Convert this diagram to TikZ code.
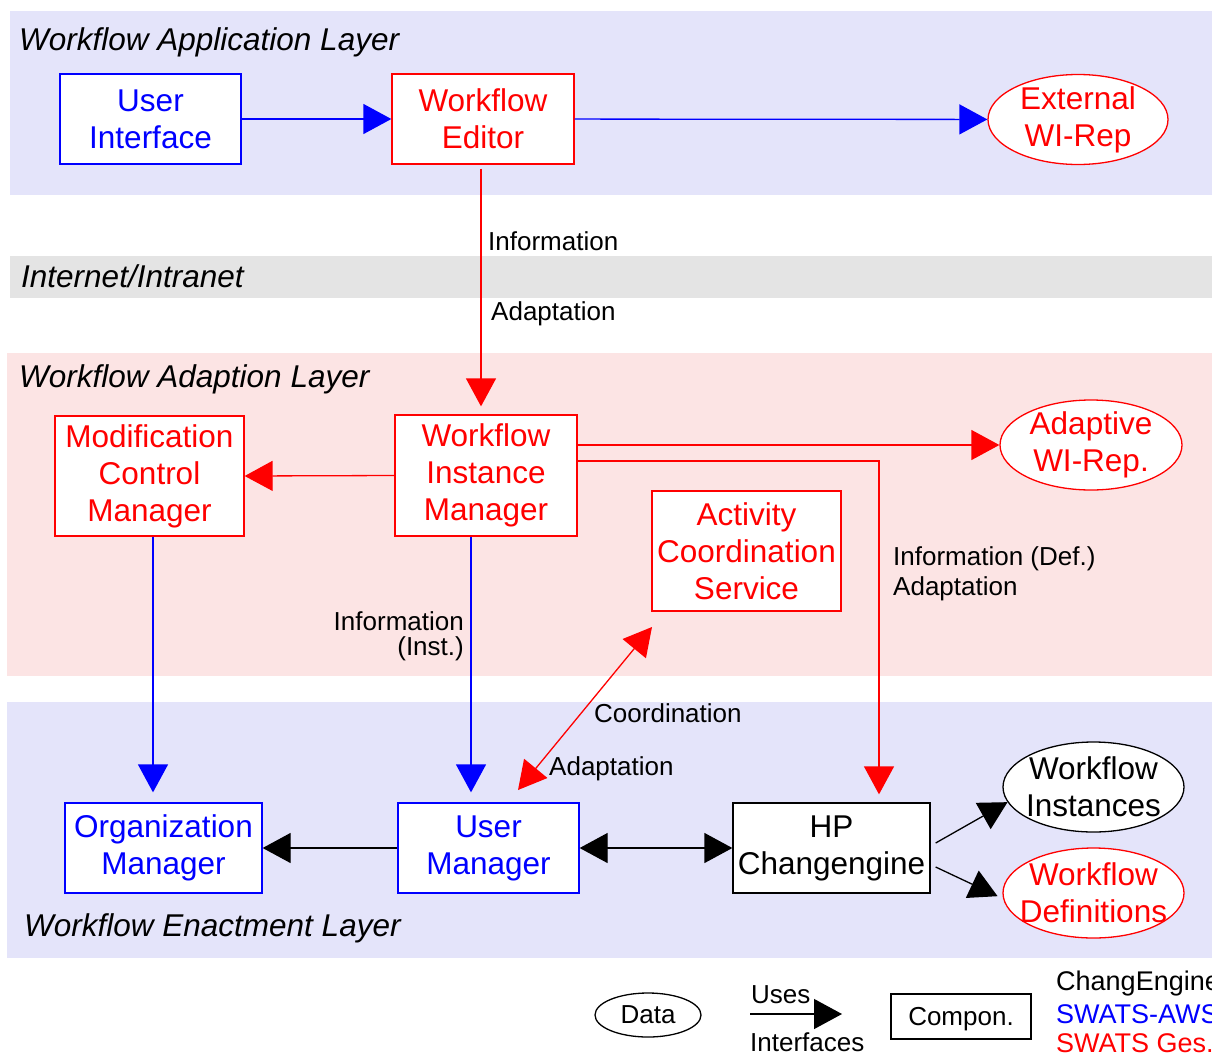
\documentclass[tikz,border=0pt]{standalone}
\usepackage{fontspec}
\setmainfont{Liberation Sans}
\usetikzlibrary{arrows.meta,shapes.geometric}

\definecolor{lavband}{RGB}{228,228,250}
\definecolor{pinkband}{RGB}{252,228,228}
\definecolor{grayband}{RGB}{228,228,228}

\tikzset{
  comp/.style={draw, fill=white, line width=1.3pt, align=center, inner sep=0pt,
    font=\fontsize{31.5}{37}\selectfont},
  datum/.style={draw, fill=white, line width=1.3pt, ellipse, align=center, inner xsep=-30pt, inner ysep=-12pt,
    minimum width=180pt, minimum height=90pt, font=\fontsize{31.5}{37}\selectfont},
  aws/.style={draw=blue, text=blue},
  ges/.style={draw=red, text=red},
  lbl/.style={font=\fontsize{26}{25}\selectfont, inner sep=0pt},
  layer/.style={font=\fontsize{31.5}{36}\selectfont\itshape, anchor=west, inner sep=0pt},
  uses/.style={-{Triangle[length=28pt,width=30pt]}, line width=1.3pt},
  both/.style={{Triangle[length=28pt,width=30pt]}-{Triangle[length=28pt,width=30pt]}, line width=1.3pt}
}

\begin{document}
\begin{tikzpicture}[x=1pt, y=-1pt]
  \useasboundingbox (0,0) rectangle (1212,1055);
  \clip (0,0) rectangle (1212,1055);

  % layers
  \fill[lavband] (10,11) rectangle (1212,195);
  \fill[grayband] (10,256) rectangle (1212,298);
  \fill[pinkband] (7,353) rectangle (1212,676);
  \fill[lavband] (7,702) rectangle (1212,958);
  \node[layer] (lapp) at (19,42) {Workflow Application Layer};
  \node[layer] (lnet) at (21,276) {Internet/Intranet};
  \node[layer] (ladp) at (19,379) {Workflow Adaption Layer};
  \node[layer] (lenc) at (24,928) {Workflow Enactment Layer};

  % application layer
  \node[comp, aws, minimum width=181pt, minimum height=90pt] (ui) at (150.5,119) {User\\Interface};
  \node[comp, ges, minimum width=182pt, minimum height=90pt] (we) at (483,119) {Workflow\\Editor};
  \node[datum, ges] (ext) at (1078,119.5) {External\\WI-Rep};
  \draw[uses, blue] (ui) -- (we);
  \draw[uses, blue] (we) -- (ext);

  % adaption layer
  \node[comp, ges, minimum width=182pt, minimum height=121pt] (wim) at (486,475.5) {Workflow\\Instance\\Manager};
  \node[comp, ges, minimum width=189pt, minimum height=120pt] (mcm) at (149.5,476) {Modification\\Control\\Manager};
  \node[comp, ges, minimum width=189pt, minimum height=120pt] (acs) at (746.5,551) {Activity\\Coordination\\Service};
  \node[datum, ges, minimum width=182pt] (arep) at (1091,445) {Adaptive\\WI-Rep.};

  % enactment layer
  \node[comp, aws, minimum width=197pt, minimum height=90pt] (om) at (163.5,848) {Organization\\Manager};
  \node[comp, aws, minimum width=181pt, minimum height=90pt] (um) at (488.5,848) {User\\Manager};
  \node[comp, minimum width=197pt, minimum height=90pt] (hp) at (831.5,848) {HP\\Changengine};
  \node[datum, minimum width=181pt] (wi) at (1093.5,787) {Workflow\\Instances};
  \node[datum, ges, minimum width=181pt] (wd) at (1093.5,893) {Workflow\\Definitions};

  % red connectors
  \draw[uses, red, shorten <=4pt, shorten >=8pt] ([xshift=-2pt]we.south) -- ([xshift=-2pt]we.south |- wim.north);
  \node[lbl, anchor=west] (inf1) at (488,241) {Information};
  \node[lbl, anchor=west] (adp1) at (491,314) {Adaptation};
  \draw[uses, red] (wim.west) -- (mcm.east);
  \draw[uses, red] (wim.east |- arep.west) -- (arep.west);
  \draw[uses, red, shorten >=8pt] ([yshift=14.5pt]wim.east) -| ([xshift=47.5pt]hp.north);
  \node[lbl, anchor=west, align=left, font=\fontsize{26}{30}\selectfont] (inf2) at (893,574) {Information (Def.)\\Adaptation};
  \coordinate (c1) at (652,627);
  \coordinate (c2) at (518,790);
  \draw[both, red] (c1) -- (c2);
  \node[lbl, anchor=west] (coo) at (594,713) {Coordination};
  \node[lbl, anchor=west] (adp2) at (549,769) {Adaptation};

  % blue and black connectors
  \draw[uses, blue, shorten >=10pt] ([xshift=3.5pt]mcm.south) -- ([xshift=3.5pt]mcm.south |- om.north);
  \draw[uses, blue, shorten >=10pt] ([xshift=-15pt]wim.south) -- ([xshift=-15pt]wim.south |- um.north);
  \node[lbl, anchor=east, align=right] (inf3) at (464,636) {Information\\(Inst.)};
  \draw[uses] (um.west) -- (om.east);
  \draw[both] (um.east) -- (hp.west);
  \draw[uses] ([shift={(5pt,5pt)}]hp.east) -- (wi.190);
  \draw[uses] ([shift={(5pt,-19pt)}]hp.east) -- ([xshift=-5pt]wd.182);

  % legend
  \node[datum, minimum width=106pt, minimum height=44pt, font=\fontsize{26}{30}\selectfont] (ldat) at (648,1015) {Data};
  \coordinate (la) at (750,1014);
  \coordinate (lb) at (842,1014);
  \draw[uses] (la) -- (lb);
  \node[lbl, anchor=west] (luse) at (751,995) {Uses};
  \node[lbl, anchor=west] (lint) at (750,1042) {Interfaces};
  \node[comp, minimum width=140pt, minimum height=45pt, text depth=0pt, font=\fontsize{26}{30}\selectfont] (lcmp) at (961,1016.5) {Compon.};
  \node[lbl, anchor=west, font=\fontsize{27}{30}\selectfont] (lce) at (1056,984) {ChangEngine};
  \node[lbl, anchor=west, font=\fontsize{27}{30}\selectfont, blue] (law) at (1056,1014) {SWATS-AWS};
  \node[lbl, anchor=west, font=\fontsize{27}{30}\selectfont, red] (lge) at (1056,1043) {SWATS Ges.};
\end{tikzpicture}
\end{document}
